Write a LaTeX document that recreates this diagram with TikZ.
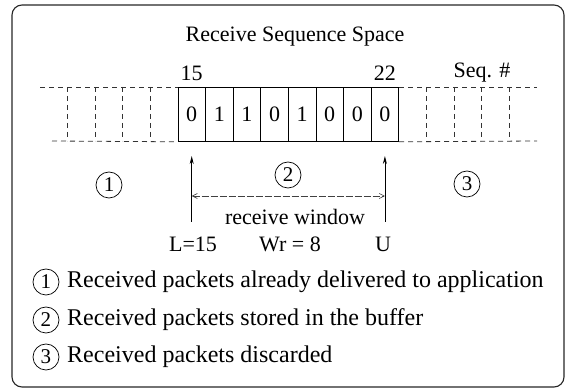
\documentclass[tikz,border=0pt]{standalone}
\usepackage{fontspec}
\setmainfont{Liberation Serif}
\usetikzlibrary{arrows.meta}
\begin{document}
\begin{tikzpicture}[x=1pt,y=-1pt,
  every node/.style={font=\fontsize{22}{26}\selectfont},
  cell/.style={draw,line width=0.8pt,minimum width=27.6pt,minimum height=54pt,inner sep=0pt,anchor=north west},
  dsh/.style={draw=black!80,line width=0.8pt,dash pattern=on 5pt off 4pt},
  circ/.style={draw,circle,line width=0.7pt,minimum size=26pt,inner sep=0pt,font=\fontsize{21}{24}\selectfont},
  lbl/.style={inner sep=0pt},
  legend/.style={inner sep=0pt,anchor=west,font=\fontsize{24}{28}\selectfont},
  uparrow/.style={line width=0.8pt,-{Stealth[length=8pt,width=4pt]}},
  winarrow/.style={line width=0.6pt,black!75,dash pattern=on 7pt off 2pt,{Straight Barb[length=5pt,width=5pt]}-{Straight Barb[length=5pt,width=5pt]}}
]
\useasboundingbox (0,0) rectangle (566,390);
\draw[line width=1.1pt,rounded corners=10pt,black!85] (12,5) rectangle (564,387);
\node[lbl] (title) at (295,37) {Receive Sequence Space};
% cells
\foreach \v [count=\i from 0] in {0,1,1,0,1,0,0,0} {
  \node[cell] (c\i) at ({177.5+27.6*\i},87) {\v};
}
\node[lbl] (n15) at (c0.center |- 0,73) {15};
\node[lbl] (n22) at (c7.center |- 0,73) {22};
\node[lbl] (seq) at (482,73) {Seq. \#};
% dashed empty slots
\coordinate (lt) at (40,87); \coordinate (lb) at (52,141);
\coordinate (rt) at (537,87); \coordinate (rb) at (537,141);
\draw[dsh] (lt) -- (c0.north west);
\draw[dsh] (lb) -- (c0.south west);
\draw[dsh] (c7.north east) -- (rt);
\draw[dsh] (c7.south east) -- (rb);
\foreach \x in {67,95,122.7,150,426,454,481,509} {
  \draw[dsh] (\x,87) -- (\x,141);
}
% arrows
\coordinate (La) at (c0.center |- 0,222);
\coordinate (Ua) at (c7.center |- 0,222);
\coordinate (Lt) at (c0.center |- 0,156);
\coordinate (Ut) at (c7.center |- 0,156);
\draw[uparrow] (La) -- (Lt);
\draw[uparrow] (Ua) -- (Ut);
\coordinate (Lw) at (c0.center |- 0,196);
\coordinate (Uw) at (c7.center |- 0,196);
\draw[winarrow] (Lw) -- (Uw);
\node[circ] (two) at (288,175) {2};
\node[circ] (one) at (109,185) {1};
\node[circ] (three) at (467,184) {3};
\node[lbl] (rw) at (295,217) {receive window};
\node[lbl] (L) at (193,244) {L=15};
\node[lbl] (Wr) at (290,244) {Wr = 8};
\node[lbl] (U) at (383,244) {U};
% legend
\node[circ] (k1) at (46,282) {1};
\node[circ] (k2) at (46,320) {2};
\node[circ] (k3) at (46,357) {3};
\node[legend] (t1) at (67,282) {Received packets already delivered to application};
\node[legend] (t2) at (67,320) {Received packets stored in the buffer};
\node[legend] (t3) at (67,357) {Received packets discarded};
\end{tikzpicture}
\end{document}
